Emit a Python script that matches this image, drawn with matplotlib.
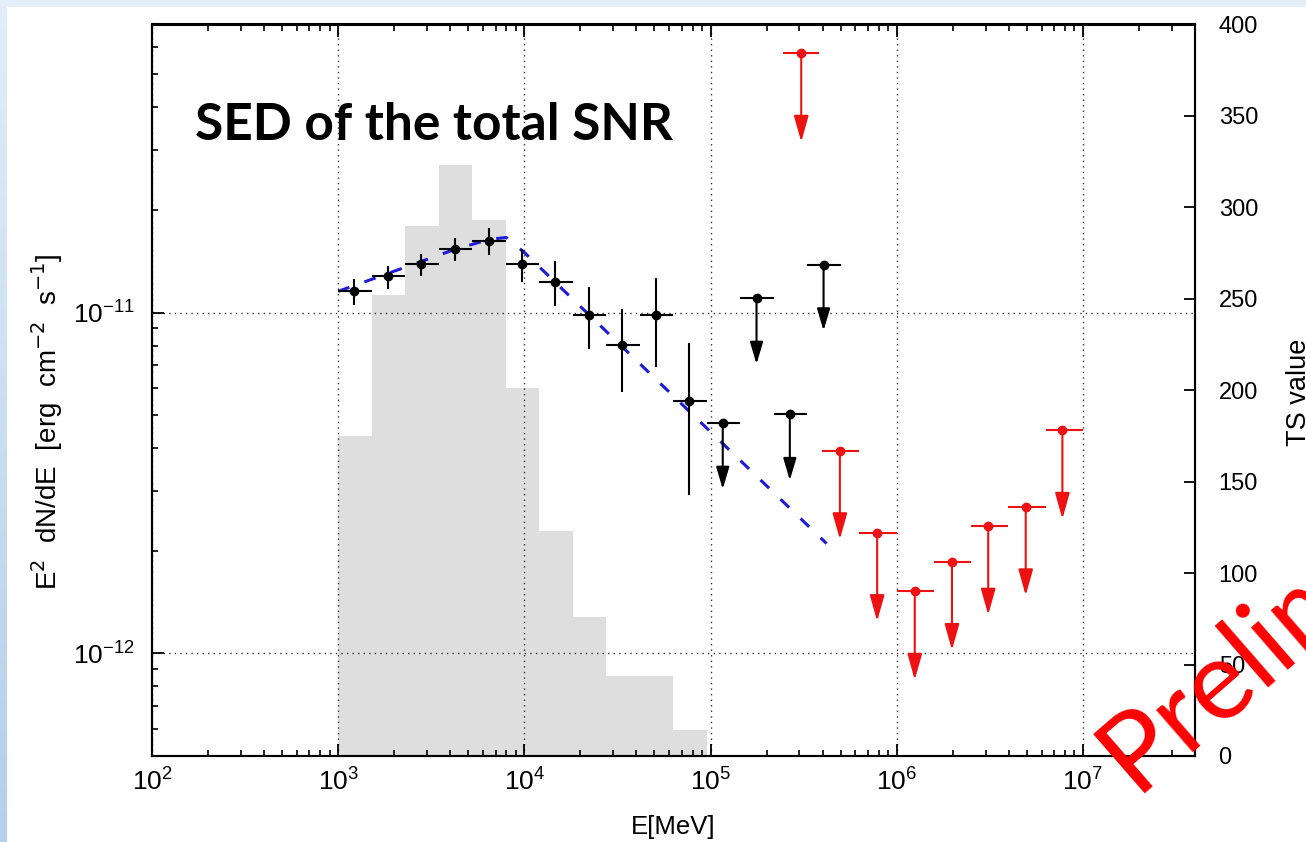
import numpy as np
import matplotlib
matplotlib.use("Agg")
import matplotlib.pyplot as plt
from matplotlib.colors import LinearSegmentedColormap
from matplotlib.patches import Rectangle
from matplotlib.ticker import LogLocator, NullFormatter, MultipleLocator, FixedLocator

plt.rcParams['font.family'] = ['Liberation Sans', 'DejaVu Sans']

# 15 log bins from 1 GeV to 500 GeV (MeV)
bin_edges = [1000, 1513, 2289, 3464, 5241, 7931, 12000, 18158, 27475,
             41573, 62906, 95183, 144025, 217928, 329753, 498959]

# TS value per bin (first 11 bins)
ts_values = [175, 252, 290, 323, 293, 201, 123, 76, 44, 44, 14]

# detected SED points [erg cm^-2 s^-1]
det_e = [1214, 1842, 2791, 4219, 6423, 9660, 14640, 22120, 33510, 50840, 76740]
det_flux = [1.154e-11, 1.280e-11, 1.386e-11, 1.537e-11, 1.626e-11, 1.386e-11,
            1.232e-11, 9.83e-12, 8.05e-12, 9.83e-12, 5.49e-12]
det_hi = [1.253e-11, 1.370e-11, 1.487e-11, 1.660e-11, 1.776e-11, 1.541e-11,
          1.420e-11, 1.186e-11, 1.024e-11, 1.263e-11, 8.12e-12]
det_lo = [1.052e-11, 1.172e-11, 1.280e-11, 1.417e-11, 1.476e-11, 1.229e-11,
          1.045e-11, 7.83e-12, 5.85e-12, 6.93e-12, 2.91e-12]

# upper limits in the last four bins
ul_e = [116300, 176600, 266600, 404600]
ul_flux = [4.74e-12, 1.103e-11, 5.03e-12, 1.382e-11]

# upper limits from the high-energy analysis
hul_e = [307000, 495000, 785000, 1250000, 1980000, 3100000, 4930000, 7760000]
hul_lo = [245000, 398000, 631000, 1000000, 1585000, 2512000, 3981000, 6310000]
hul_hi = [383000, 631000, 1000000, 1585000, 2512000, 3981000, 6310000, 10000000]
hul_flux = [5.76e-11, 3.93e-12, 2.26e-12, 1.52e-12, 1.86e-12, 2.36e-12, 2.69e-12, 4.51e-12]

# broken power-law fit
model_e = [1000, 4200, 6500, 8000, 10000, 420000]
model_flux = [1.154e-11, 1.53e-11, 1.64e-11, 1.66e-11, 1.50e-11, 2.10e-12]

W, H = 1306, 842
fig = plt.figure(figsize=(W / 100, H / 100), dpi=100)
fig.patch.set_facecolor('white')

# slide frame: thin blue bands at left and top
cmap = LinearSegmentedColormap.from_list('b', ['#e2edf8', '#b3cfeb'])
strip = cmap(np.linspace(0, 1, H))[:, None, :3] * np.ones((1, 7, 1))
fig.figimage(strip, xo=0, yo=0, origin='upper', zorder=0)
fig.add_artist(Rectangle((0, 1 - 7 / H), 1, 7 / H, transform=fig.transFigure,
                         facecolor='#e6eef8', edgecolor='none'))

rect = [152 / W, (H - 756) / H, (1195 - 152) / W, (756 - 24.5) / H]
ax = fig.add_axes(rect)
ts = ax.twinx()
ax.set_zorder(2)
ax.patch.set_visible(False)

# TS histogram on the right-hand axis
ts.stairs(ts_values, bin_edges[:12], fill=True, color='#dedede', linewidth=0)
ts.set_ylim(0, 400)
ts.yaxis.set_major_locator(MultipleLocator(50))
ts.tick_params(axis='y', direction='in', length=8, width=1.3, labelsize=17, pad=17)

ax.set_xscale('log')
ax.set_yscale('log')
ax.set_xlim(100, 4e7)
ax.set_ylim(5e-13, 7e-11)

ax.grid(True, which='major', color='#333333', linestyle=(0, (1, 3)), linewidth=1.0)

# fit line
ax.plot(model_e, model_flux, color='#1c1cd6', lw=2.2, dashes=(3.9, 5.2),
        dash_capstyle='butt', zorder=3)

edges = np.array(bin_edges)
e = np.array(det_e)
xerr = [e - edges[:11], edges[1:12] - e]
f = np.array(det_flux)
yerr = [f - np.array(det_lo), np.array(det_hi) - f]
ax.errorbar(det_e, det_flux, xerr=xerr, yerr=yerr, fmt='o', color='black',
            ms=6, elinewidth=1.5, capsize=0, zorder=4)


def draw_limits(energies, lo, hi, flux, color, drop, hw, hl):
    ax.hlines(flux, lo, hi, color=color, lw=1.5, zorder=4)
    ax.plot(energies, flux, 'o', color=color, ms=6, zorder=5)
    for x, y in zip(energies, flux):
        ax.annotate('', xy=(x, y * drop), xytext=(x, y),
                    arrowprops=dict(arrowstyle=f'-|>,head_length={hl},head_width={hw}',
                                    color=color, lw=1.5, shrinkA=0, shrinkB=0,
                                    mutation_scale=10),
                    zorder=4)


draw_limits(ul_e, edges[11:15], edges[12:16], ul_flux, 'black', 0.64, 0.4, 1.35)
draw_limits(hul_e, hul_lo, hul_hi, hul_flux, '#ee1111', 0.55, 0.45, 1.6)

ax.xaxis.set_major_locator(FixedLocator([1e2, 1e3, 1e4, 1e5, 1e6, 1e7]))
ax.xaxis.set_minor_locator(LogLocator(base=10, subs=np.arange(2, 10), numticks=100))
ax.yaxis.set_major_locator(FixedLocator([1e-12, 1e-11]))
ax.yaxis.set_minor_locator(FixedLocator(
    [k * 1e-13 for k in range(5, 10)] + [k * 1e-12 for k in range(2, 10)]
    + [k * 1e-11 for k in range(2, 8)]))
ax.xaxis.set_minor_formatter(NullFormatter())
ax.yaxis.set_minor_formatter(NullFormatter())
ax.tick_params(which='major', direction='in', length=8.5, width=1.3, top=True,
               labelsize=19)
ax.tick_params(which='minor', direction='in', length=4.3, width=1.2, top=True)
ax.tick_params(axis='x', pad=9)
ax.tick_params(axis='y', pad=12)

for a in (ax, ts):
    for s in a.spines.values():
        s.set_linewidth(1.5)

ax.set_xlabel('E[MeV]', fontsize=18.5, labelpad=14)
fig.text(47 / W, 1 - 422 / H, r'E$^2$  dN/dE  [erg  cm$^{-2}$  s$^{-1}$]', rotation=90,
         ha='center', va='center', fontsize=20)
fig.text(1299 / W, 1 - 392 / H, 'TS value', rotation=90, ha='center', va='center',
         fontsize=19.5)

fig.text(195 / W, 1 - 140 / H, 'SED of the total SNR', fontsize=37,
         family='Lato', weight='bold', va='baseline')
fig.text(1135 / W, 1 - 794 / H, 'Preliminary', fontsize=80, color='red',
         family='Lato', rotation=41, rotation_mode='anchor',
         ha='left', va='baseline', zorder=10)

fig.savefig('out.png', dpi=100)
